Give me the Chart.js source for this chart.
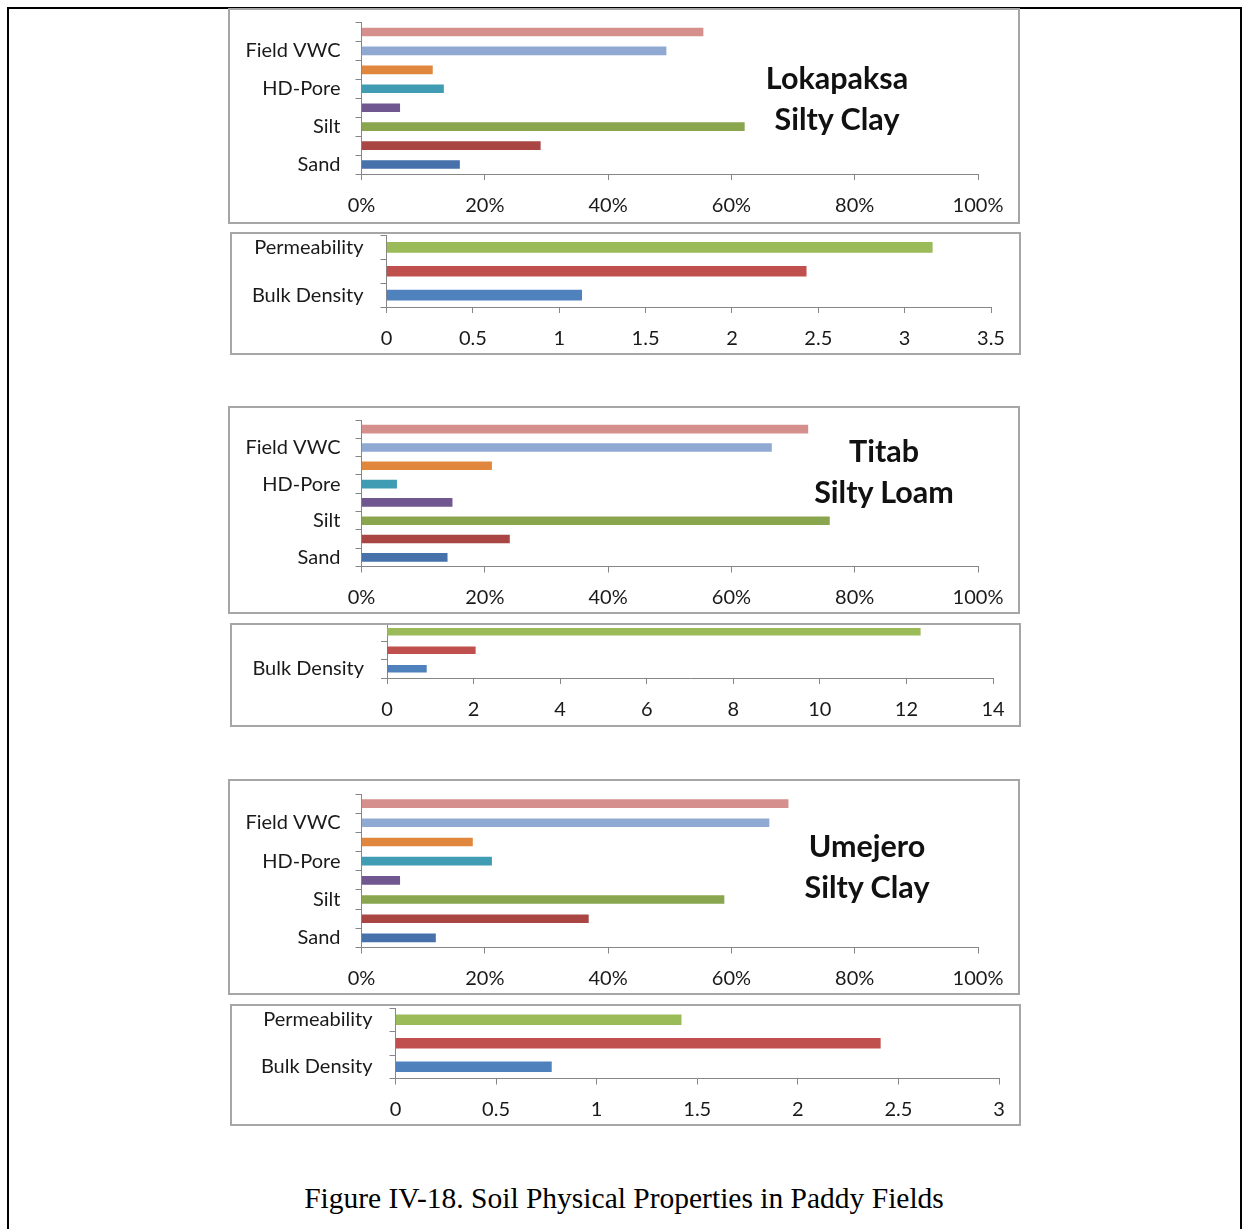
<!DOCTYPE html>
<html>
<head>
<meta charset="utf-8">
<script src="https://cdn.jsdelivr.net/npm/chart.js@4"></script>
<style>
  html, body { margin: 0; padding: 0; background: #fff; overflow: hidden; }
  body { width: 1242px; height: 1229px; position: relative; }
  #frame { position: absolute; left: 7px; top: 7px; width: 1235px; height: 1300px;
           border: 2px solid #000; box-sizing: border-box; }
  .box { position: absolute; border: 2px solid #a6a6a6; box-sizing: border-box;
         overflow: hidden; background: #fff; }
  .box canvas { position: absolute; left: 0; }
  .title { position: absolute; font-family: Lato, "Open Sans", sans-serif; font-weight: bold;
           font-size: 30.5px; line-height: 41px; color: #111; text-align: center; width: 300px;
           white-space: nowrap; }
  #caption { position: absolute; left: 0; width: 1248px; top: 1182px; text-align: center;
             font-family: "Liberation Serif", "Times New Roman", serif; font-size: 29.5px; color: #000; }
</style>
</head>
<body>
<div id="frame"></div>
<div id="caption">Figure IV-18. Soil Physical Properties in Paddy Fields</div>
<script>
// ---- data ----
const soilLabels = ['', 'Field VWC', '', 'HD-Pore', '', 'Silt', '', 'Sand'];
const lokapaksaSoil = [55.4, 49.4, 11.5, 13.3, 6.2, 62.1, 29.0, 15.9];
const titabSoil     = [72.4, 66.5, 21.1, 5.7, 14.7, 75.9, 24.0, 13.9];
const umejeroSoil   = [69.2, 66.1, 18.0, 21.1, 6.2, 58.8, 36.8, 12.0];

const physLabels      = ['Permeability', '', 'Bulk Density'];
const titabPhysLabels = ['', '', 'Bulk Density'];
const lokapaksaPhys = [3.16, 2.43, 1.13];
const titabPhys     = [12.32, 2.04, 0.91];
const umejeroPhys   = [1.42, 2.41, 0.775];

// axis ranges: [max, step]
const percentAxis       = [100, 20];
const lokapaksaPhysAxis = [3.5, 0.5];
const titabPhysAxis     = [14, 2];
const umejeroPhysAxis   = [3, 0.5];

const siteTitles = [['Lokapaksa', 'Silty Clay'], ['Titab', 'Silty Loam'], ['Umejero', 'Silty Clay']];

// ---- colours ----
const soilColors = ['#d58f8d', '#8fa9d3', '#e0873d', '#3f9cb2', '#71578f', '#89a54e', '#a94644', '#4671ab'];
const physColors = ['#9bbb59', '#c0504d', '#4f81bd'];

// ---- layout (page pixels) ----
// box: [left, top, right, bottom] of the bordered frame; plot: [left, top, right, bottom] of plot area
const panels = [
  { box: [228, 8, 1020, 224],     plot: [361.5, 22.5, 978, 174],    labels: soilLabels, values: lokapaksaSoil, colors: soilColors, axis: percentAxis, pct: true, bar: 8, tickPad: 15 },
  { box: [230, 232, 1021, 355],   plot: [386.5, 235.5, 991, 307],   labels: physLabels, values: lokapaksaPhys, colors: physColors, axis: lokapaksaPhysAxis, pct: false, bar: 10, tickPad: 17 },
  { box: [228, 406, 1020, 614],   plot: [361.5, 420, 978, 566.5],   labels: soilLabels, values: titabSoil, colors: soilColors, axis: percentAxis, pct: true, bar: 8, tickPad: 15 },
  { box: [230, 623, 1021, 727],   plot: [387, 622.5, 993, 678],     labels: titabPhysLabels, values: titabPhys, colors: physColors, axis: titabPhysAxis, pct: false, bar: 7, tickPad: 17 },
  { box: [228, 779, 1020, 995],   plot: [361.5, 794, 978, 947.5],   labels: soilLabels, values: umejeroSoil, colors: soilColors, axis: percentAxis, pct: true, bar: 8, tickPad: 15 },
  { box: [230, 1004, 1021, 1126], plot: [395.5, 1008, 999, 1078.5], labels: physLabels, values: umejeroPhys, colors: physColors, axis: umejeroPhysAxis, pct: false, bar: 10, tickPad: 17 }
];

const titlePlaces = [[837, 77], [884, 450], [867, 845]];

const AXIS_GREY = '#868686';
const TEXT = '#1a1a1a';
const FONT = { family: 'Lato, "Open Sans", sans-serif', size: 20 };
const OVERHANG = 14; // canvas extends above the frame so a clipped top category can still be drawn

panels.forEach((p, i) => {
  const [bl, bt, br, bb] = p.box;
  const div = document.createElement('div');
  div.className = 'box';
  Object.assign(div.style, { left: bl + 'px', top: bt + 'px', width: (br - bl) + 'px', height: (bb - bt) + 'px' });
  document.body.appendChild(div);

  const cx = bl + 2, cy = bt + 2 - OVERHANG;
  const cw = br - bl - 4, ch = bb - bt - 4 + OVERHANG;
  const canvas = document.createElement('canvas');
  canvas.style.top = (-OVERHANG) + 'px';
  canvas.style.width = cw + 'px';
  canvas.style.height = ch + 'px';
  canvas.width = cw; canvas.height = ch;
  div.appendChild(canvas);

  const [pl, pt, pr, pb] = p.plot;
  const [xmax, xstep] = p.axis;

  new Chart(canvas, {
    type: 'bar',
    data: {
      labels: p.labels,
      datasets: [{
        data: p.values,
        backgroundColor: p.colors,
        borderWidth: 0,
        barThickness: p.bar
      }]
    },
    options: {
      indexAxis: 'y',
      responsive: false,
      animation: false,
      events: [],
      layout: { padding: { left: 0, bottom: 0, top: pt - cy, right: (cx + cw) - pr } },
      plugins: { legend: { display: false }, tooltip: { enabled: false } },
      scales: {
        x: {
          type: 'linear',
          min: 0, max: xmax,
          ticks: {
            stepSize: xstep,
            color: TEXT,
            font: FONT,
            padding: 13.5,
            maxRotation: 0,
            autoSkip: false,
            callback: v => p.pct ? v + '%' : String(v)
          },
          grid: { drawOnChartArea: false, drawTicks: true, tickLength: 6, color: AXIS_GREY, lineWidth: 1 },
          border: { color: AXIS_GREY, width: 1 },
          afterFit: s => { s.height = (cy + ch) - pb; s.paddingLeft = 0; s.paddingRight = 0; }
        },
        y: {
          type: 'category',
          ticks: { color: TEXT, font: FONT, padding: p.tickPad, autoSkip: false },
          grid: { drawOnChartArea: false, drawTicks: true, tickLength: 6, color: AXIS_GREY, lineWidth: 1, offset: true },
          border: { color: AXIS_GREY, width: 1 },
          afterFit: s => { s.width = pl - cx; s.paddingTop = 0; s.paddingBottom = 0; }
        }
      }
    }
  });
});

// site names on the percentage panels
siteTitles.forEach((lines, i) => {
  const [x, y] = titlePlaces[i];
  const t = document.createElement('div');
  t.className = 'title';
  t.style.left = (x - 150) + 'px';
  t.style.top = (y - 20.5) + 'px';
  t.innerHTML = lines.join('<br>');
  document.body.appendChild(t);
});
</script>
</body>
</html>
